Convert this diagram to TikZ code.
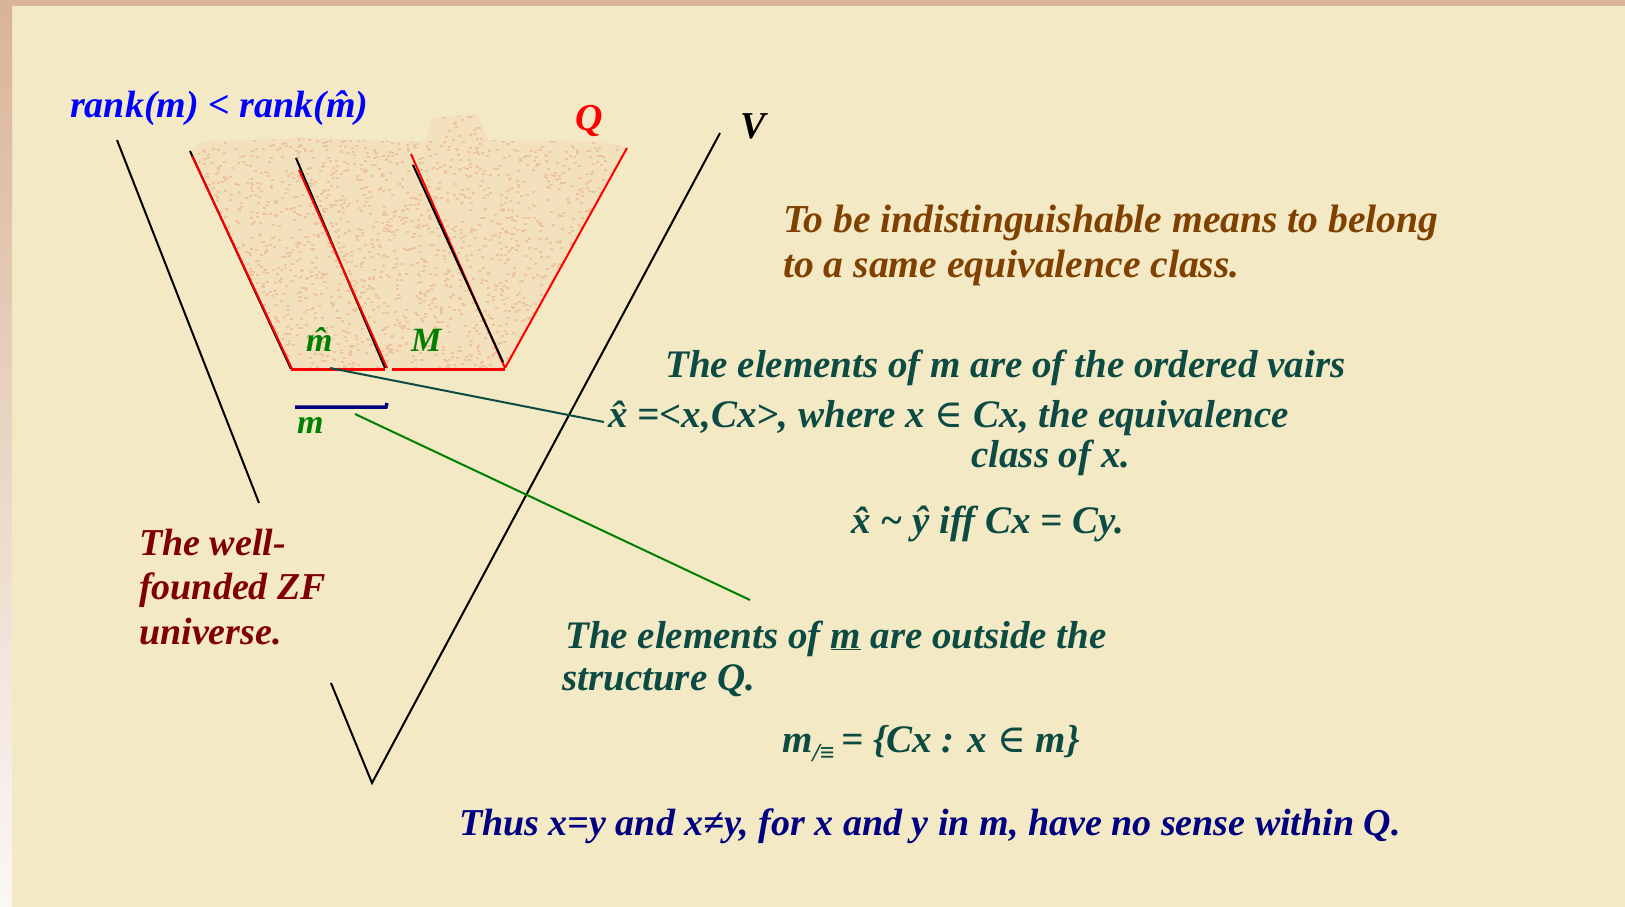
\documentclass[tikz,border=0pt]{standalone}
\usepackage{fontspec}
\setmainfont{Liberation Serif}
\newfontfamily\symf{DejaVu Serif}
\definecolor{bg}{HTML}{F3E9C4}
\definecolor{tan}{HTML}{D9B497}
\definecolor{peach}{HTML}{EDC3A0}
\definecolor{teal}{HTML}{0C4A44}
\definecolor{brownt}{HTML}{7F4000}
\definecolor{maroon}{HTML}{800000}
\definecolor{navyt}{HTML}{000080}
\definecolor{bluet}{HTML}{0000FF}
\definecolor{greent}{HTML}{008000}
\definecolor{redt}{HTML}{FF0000}
\newcommand{\elem}{{\symf\mdseries\upshape ∈}}
\begin{document}
\begin{tikzpicture}[x=1pt,y=-1pt,
  txt/.style={anchor=base west, inner sep=0pt, font=\fontsize{38}{45}\selectfont\bfseries\itshape},
  big/.style={font=\fontsize{39}{45}\selectfont\bfseries\itshape},
  bigger/.style={font=\fontsize{39.6}{45}\selectfont\bfseries\itshape},
  lbl/.style={font=\fontsize{34}{40}\selectfont\bfseries\itshape},
  edge/.style={line width=2pt},
  conn/.style={line width=2pt}]
\useasboundingbox (0,0) rectangle (1625,907);
% background and frame
\fill[bg] (0,0) rectangle (1625,907);
\fill[tan] (0,0) rectangle (1625,6);
\shade[top color=tan, bottom color=white!90!tan] (0,0) rectangle (12,907);
% shaded region Q
\begin{scope}
\clip (190,151) -- (200,142) -- (300,138) -- (425,142) -- (432,118) -- (478,114) -- (488,140) -- (600,142) -- (627,148) -- (505,368) -- (291,369) -- cycle;
\fill[peach!22!bg] (150,100) rectangle (650,380);
\pgfmathsetseed{7}
\foreach \i in {1,...,2200}{
  \pgfmathsetmacro\rx{190+437*rnd}
  \pgfmathsetmacro\ry{112+257*rnd}
  \fill[peach] (\rx,\ry) rectangle ++(3,2);
}
\end{scope}
% outer V (ZF universe)
\draw[edge] (117,140) -- (259,503);
\draw[edge] (331,683) -- (372,783) -- (720,133);
% Q structure lines
\draw[edge,black] (190,151) -- (291,369);
\draw[edge,redt] (192,156) -- (292,369);
\draw[edge,black] (296,158) -- (385,368);
\draw[edge,redt] (299,170) -- (387,368);
\draw[edge,redt] (411,154) -- (505,368);
\draw[edge,black] (413,165) -- (503,362);
\draw[edge,redt] (627,148) -- (505,368);
\draw[line width=3pt,redt] (291,369) -- (385,369);
\draw[line width=3pt,redt] (392,369) -- (505,369);
% underline bar for m
\draw[line width=3.5pt,navyt] (295,407) -- (386,407) -- (387,403);
% labels in the picture
\node[txt,bluet] (rank) at (70,117) {rank(m) < rank(\^{m})};
\node[txt,redt] (Q) at (575,130) {Q};
\node[txt,black] (V) at (740,138) {V};
\node[txt,greent,lbl] (mhat) at (306,351) {\^{m}};
\node[txt,greent,lbl] (M) at (411,351) {M};
\node[txt,greent,lbl] (mbar) at (297,433) {m};
% text blocks
\node[txt,brownt,bigger] (t1) at (783,232) {To be indistinguishable means to belong};
\node[txt,brownt,bigger] (t2) at (783,277) {to a same equivalence class.};
\node[txt,teal,big] (e1) at (665,377) {The elements of m are of the ordered vairs};
\node[txt,teal,big] (e2) at (608,427) {\^{x} =<x,Cx>, where x \elem{} Cx, the equivalence};
\node[txt,teal,big] (e3) at (971,467) {class of x.};
\node[txt,teal,big] (e4) at (851,533) {\^{x} \textasciitilde{} \^{y} iff Cx = Cy.};
\node[txt,teal,big] (o1) at (565,648) {The elements of \underline{m} are outside the};
\node[txt,teal,big] (o2) at (562,690) {structure Q.};
\node[txt,teal,big] (f1) at (782,752) {m\raisebox{-9pt}{\fontsize{26}{26}\selectfont /≡}\,= \{Cx : x \elem{} m\}};
\node[txt,navyt] (thus) at (459,835) {Thus x=y and x≠y, for x and y in m, have no sense within Q.};
\node[txt,maroon] (w1) at (139,555) {The well-};
\node[txt,maroon] (w2) at (139,599) {founded ZF};
\node[txt,maroon] (w3) at (139,644) {universe.};
% connectors
\coordinate (mhatfoot) at (330,368);
\coordinate (xhatend) at (604,422);
\coordinate (mbarfoot) at (355,414);
\coordinate (outsideend) at (750,600);
\draw[conn,teal] (mhatfoot) -- (xhatend);
\draw[conn,greent] (mbarfoot) -- (outsideend);
\end{tikzpicture}
\end{document}
